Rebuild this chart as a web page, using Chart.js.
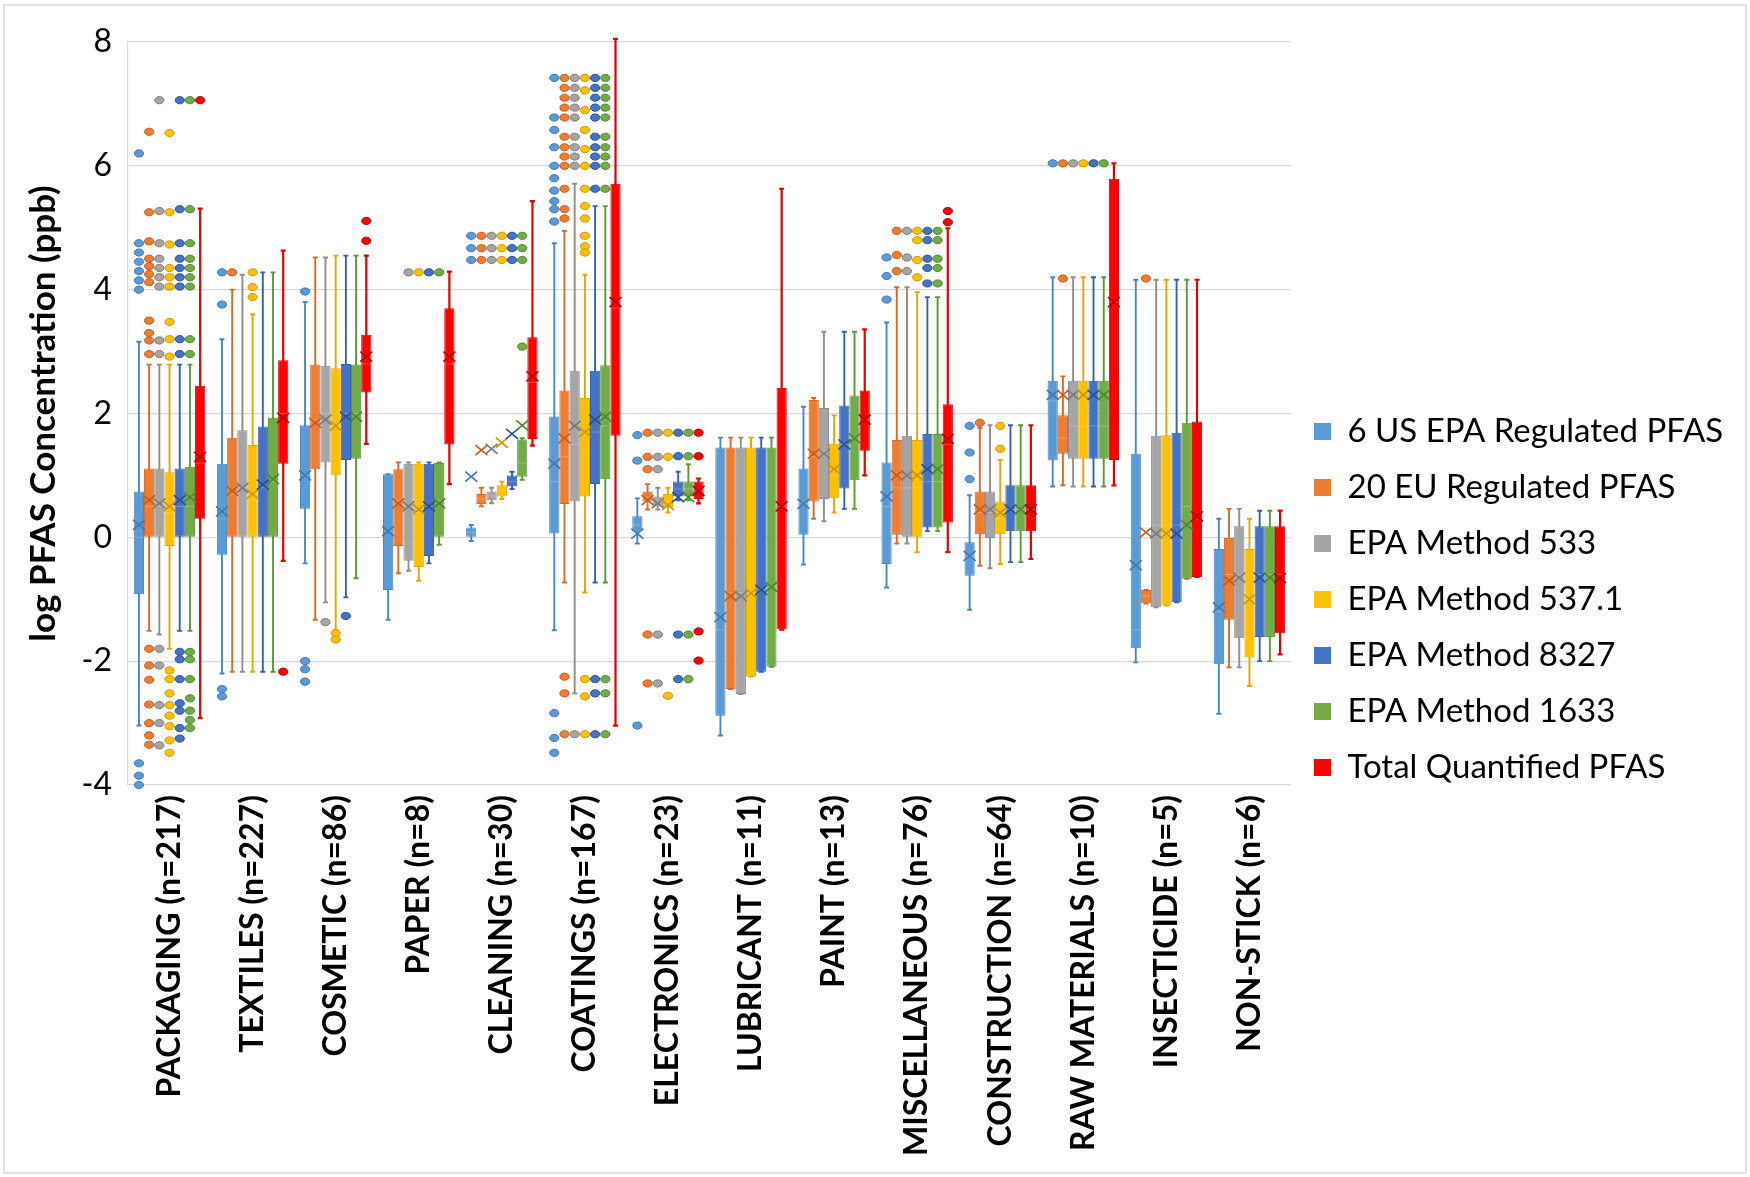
<!DOCTYPE html>
<html>
<head>
<meta charset="utf-8">
<script src="https://cdn.jsdelivr.net/npm/chart.js@4.4.1/dist/chart.umd.min.js"></script>
<style>
  html, body { margin: 0; padding: 0; background: #ffffff; }
  #wrap { width: 1750px; height: 1177px; }
</style>
</head>
<body>
<div id="wrap"><canvas id="chart" width="1750" height="1177"></canvas></div>
<script>
// Product categories (x axis)
const categories = [
  'PACKAGING (n=217)', 'TEXTILES (n=227)', 'COSMETIC (n=86)', 'PAPER (n=8)',
  'CLEANING (n=30)', 'COATINGS (n=167)', 'ELECTRONICS (n=23)', 'LUBRICANT (n=11)',
  'PAINT (n=13)', 'MISCELLANEOUS (n=76)', 'CONSTRUCTION (n=64)', 'RAW MATERIALS (n=10)',
  'INSECTICIDE (n=5)', 'NON-STICK (n=6)'
];

const seriesNames = [
  '6 US EPA Regulated PFAS', '20 EU Regulated PFAS', 'EPA Method 533',
  'EPA Method 537.1', 'EPA Method 8327', 'EPA Method 1633', 'Total Quantified PFAS'
];

const yTicks = [-4, -2, 0, 2, 4, 6, 8];

// Per category: [min whisker, Q1, median, Q3, max whisker, mean]  (log ppb)
const usEpa6 = [
  [-3.04, -0.92, 0.0, 0.74, 3.16, 0.2],
  [-2.2, -0.28, 0.3, 1.19, 3.2, 0.42],
  [-0.42, 0.46, 1.0, 1.81, 3.8, 1.0],
  [-1.33, -0.85, 0.1, 1.02, 1.02, 0.1],
  [-0.06, 0.0, 0.08, 0.16, 0.2, 0.98],
  [-1.5, 0.06, 0.9, 1.95, 4.75, 1.19],
  [-0.1, 0.1, 0.2, 0.34, 0.63, 0.06],
  [-3.2, -2.88, -1.5, 1.45, 1.61, -1.29],
  [-0.44, 0.04, 0.55, 1.11, 2.11, 0.54],
  [-0.81, -0.43, 0.5, 1.21, 3.47, 0.66],
  [-1.17, -0.62, -0.3, -0.08, 0.68, -0.3],
  [0.82, 1.24, 2.2, 2.53, 4.2, 2.3],
  [-2.02, -1.79, -1.5, 1.35, 4.16, -0.45],
  [-2.85, -2.05, -1.2, -0.19, 0.3, -1.13]
];
const eu20 = [
  [-1.51, 0.0, 0.5, 1.11, 2.79, 0.6],
  [-2.17, 0.0, 0.7, 1.61, 4.0, 0.75],
  [-1.33, 1.1, 1.9, 2.79, 4.52, 1.85],
  [-0.58, -0.14, 0.6, 1.1, 1.21, 0.55],
  [0.5, 0.54, 0.62, 0.7, 0.8, 1.41],
  [-0.73, 0.54, 1.3, 2.37, 4.95, 1.6],
  [0.45, 0.58, 0.65, 0.74, 0.86, 0.6],
  [-2.45, -2.45, -0.9, 1.45, 1.61, -0.95],
  [0.3, 0.58, 1.3, 2.22, 2.25, 1.35],
  [-0.1, 0.04, 0.8, 1.57, 4.04, 1.0],
  [-0.46, 0.05, 0.4, 0.74, 1.77, 0.45],
  [0.84, 1.35, 1.6, 1.97, 2.6, 2.3],
  [-1.07, -1.07, -0.95, -0.85, -0.85, 0.08],
  [-2.1, -1.33, -0.6, 0.0, 0.46, -0.7]
];
const method533 = [
  [-1.57, 0.0, 0.5, 1.11, 2.79, 0.55],
  [-2.17, 0.0, 0.8, 1.73, 4.24, 0.8],
  [-1.05, 1.21, 2.0, 2.77, 4.52, 1.9],
  [-0.54, -0.38, 0.5, 1.19, 1.21, 0.5],
  [0.55, 0.6, 0.67, 0.74, 0.8, 1.43],
  [-2.52, 0.58, 1.5, 2.69, 5.71, 1.8],
  [0.45, 0.5, 0.58, 0.66, 0.8, 0.55],
  [-2.53, -2.53, -0.9, 1.45, 1.61, -0.95],
  [0.26, 0.62, 1.4, 2.09, 3.32, 1.35],
  [-0.1, 0.0, 0.8, 1.64, 4.04, 1.0],
  [-0.5, -0.01, 0.4, 0.74, 1.81, 0.45],
  [0.82, 1.27, 1.8, 2.53, 4.2, 2.3],
  [-1.13, -1.13, 0.2, 1.64, 4.16, 0.06],
  [-2.1, -1.63, -0.6, 0.18, 0.46, -0.65]
];
const method5371 = [
  [-1.8, -0.14, 0.4, 1.05, 2.79, 0.5],
  [-2.17, 0.0, 0.6, 1.49, 3.6, 0.7],
  [-1.5, 1.0, 1.8, 2.73, 4.55, 1.8],
  [-0.7, -0.48, 0.4, 1.19, 1.21, 0.45],
  [0.62, 0.66, 0.75, 0.84, 0.9, 1.53],
  [-0.89, 0.66, 1.4, 2.25, 4.24, 1.7],
  [0.4, 0.48, 0.58, 0.7, 0.8, 0.52],
  [-2.25, -2.25, -0.9, 1.45, 1.61, -0.9],
  [0.4, 0.63, 1.0, 1.51, 1.97, 1.1],
  [-0.24, 0.0, 0.8, 1.57, 3.96, 1.0],
  [-0.43, 0.05, 0.3, 0.58, 1.25, 0.4],
  [0.82, 1.27, 1.8, 2.53, 4.2, 2.3],
  [-1.1, -1.1, 0.2, 1.65, 4.16, 0.06],
  [-2.4, -1.94, -1.0, -0.19, 0.3, -1.0]
];
const method8327 = [
  [-1.51, 0.0, 0.5, 1.11, 2.79, 0.6],
  [-2.17, 0.0, 0.8, 1.79, 4.28, 0.85],
  [-0.97, 1.25, 2.0, 2.8, 4.55, 1.95],
  [-0.42, -0.3, 0.5, 1.19, 1.21, 0.5],
  [0.78, 0.82, 0.9, 1.0, 1.06, 1.67],
  [-0.73, 0.86, 1.7, 2.69, 5.35, 1.9],
  [0.6, 0.66, 0.78, 0.9, 1.06, 0.65],
  [-2.17, -2.17, -0.85, 1.45, 1.61, -0.85],
  [0.46, 0.79, 1.5, 2.13, 3.32, 1.5],
  [0.1, 0.16, 0.9, 1.67, 3.88, 1.1],
  [-0.4, 0.1, 0.45, 0.84, 1.81, 0.45],
  [0.82, 1.27, 1.8, 2.53, 4.2, 2.3],
  [-1.05, -1.05, 0.2, 1.69, 4.16, 0.06],
  [-2.0, -1.61, -0.6, 0.18, 0.43, -0.65]
];
const method1633 = [
  [-1.51, 0.0, 0.5, 1.14, 2.79, 0.65],
  [-2.17, 0.0, 0.9, 1.93, 4.28, 0.94],
  [-0.66, 1.27, 2.0, 2.79, 4.55, 1.95],
  [-0.12, 0.0, 0.6, 1.2, 1.21, 0.55],
  [0.93, 0.98, 1.2, 1.58, 1.6, 1.81],
  [-0.73, 0.94, 1.8, 2.78, 5.35, 1.95],
  [0.6, 0.66, 0.78, 0.9, 1.18, 0.65],
  [-2.09, -2.09, -0.8, 1.45, 1.61, -0.8],
  [0.46, 0.92, 1.6, 2.29, 3.32, 1.6],
  [0.1, 0.16, 0.9, 1.67, 3.88, 1.1],
  [-0.4, 0.1, 0.45, 0.84, 1.81, 0.45],
  [0.82, 1.27, 1.8, 2.53, 4.2, 2.3],
  [-0.67, -0.67, 0.5, 1.85, 4.16, 0.2],
  [-2.0, -1.61, -0.6, 0.18, 0.43, -0.65]
];
const totalQuantified = [
  [-2.92, 0.3, 1.2, 2.45, 5.31, 1.3],
  [-0.38, 1.19, 2.0, 2.86, 4.63, 1.93],
  [1.51, 2.34, 2.8, 3.27, 4.55, 2.92],
  [0.86, 1.5, 2.8, 3.7, 4.29, 2.92],
  [1.48, 1.59, 2.5, 3.23, 5.43, 2.6],
  [-3.04, 1.64, 3.7, 5.71, 8.05, 3.8],
  [0.55, 0.62, 0.75, 0.9, 0.95, 0.75],
  [-1.49, -1.49, 0.5, 2.41, 5.63, 0.5],
  [1.0, 1.4, 1.9, 2.37, 3.36, 1.9],
  [-0.24, 0.24, 1.5, 2.15, 4.99, 1.59],
  [-0.35, 0.1, 0.45, 0.84, 1.81, 0.45],
  [0.84, 1.25, 3.8, 5.79, 6.04, 3.8],
  [-0.64, -0.64, 0.3, 1.87, 4.16, 0.34],
  [-1.89, -1.55, -0.6, 0.18, 0.43, -0.66]
];

// Outlying samples per category (log ppb)
const usEpa6Outliers = [
  [6.2, 4.75, 4.6, 4.45, 4.3, 4.15, 4.0, -3.65, -3.85, -4.0],
  [4.28, 3.76, -2.45, -2.57],
  [3.97, -2.0, -2.13, -2.33],
  [],
  [4.87, 4.67, 4.48],
  [7.42, 6.78, 6.58, 6.3, 6.0, 5.8, 5.6, 5.43, 5.3, 5.1, -2.84, -3.24, -3.48],
  [1.65, 1.24, -3.04],
  [], [],
  [4.52, 4.22, 3.84],
  [1.8, 1.37, 0.94],
  [6.04],
  [], []
];
const eu20Outliers = [
  [6.55, 5.25, 4.78, 4.5, 4.38, 4.25, 4.12, 3.5, 3.3, 3.18, 2.96, -1.8, -2.07, -2.3, -2.7, -3.0, -3.2, -3.35],
  [4.28],
  [],
  [],
  [4.87, 4.67, 4.48],
  [7.42, 7.26, 7.1, 6.94, 6.78, 6.47, 6.3, 6.15, 6.0, 5.63, 5.3, 5.15, -2.25, -2.52, -3.18],
  [1.69, 1.3, 1.1, -1.57, -2.36],
  [], [],
  [4.95, 4.56, 4.3],
  [1.85],
  [6.04, 4.18],
  [4.18],
  []
];
const method533Outliers = [
  [7.06, 5.27, 4.75, 4.5, 4.35, 4.2, 4.05, 3.18, 2.96, -1.8, -2.07, -2.71, -3.0, -3.36],
  [],
  [-1.37],
  [4.28],
  [4.87, 4.67, 4.48],
  [7.42, 7.26, 7.1, 6.94, 6.78, 6.47, 6.3, 6.15, 6.0, -3.18],
  [1.69, 1.3, 1.1, -1.57, -2.36],
  [], [],
  [4.95, 4.52, 4.3],
  [],
  [6.04],
  [], []
];
const method5371Outliers = [
  [6.53, 5.25, 4.73, 4.35, 4.2, 4.05, 3.48, 3.2, 2.92, -2.15, -2.29, -2.52, -2.71, -2.88, -3.05, -3.28, -3.48],
  [4.28, 4.04, 3.88],
  [-1.55, -1.65],
  [4.28],
  [4.87, 4.67, 4.48],
  [7.42, 7.22, 6.9, 6.58, 6.27, 6.0, 5.63, 5.35, 5.15, 4.87, 4.7, 4.6, -2.29, -2.57, -3.18],
  [1.69, 1.3, -2.56],
  [], [],
  [4.95, 4.8, 4.48, 4.2],
  [1.8, 1.43],
  [6.04],
  [], []
];
const method8327Outliers = [
  [7.06, 5.3, 4.75, 4.5, 4.35, 4.2, 4.05, 3.2, 2.96, -1.85, -1.97, -2.29, -2.68, -2.8, -3.08, -3.25],
  [],
  [-1.27],
  [4.28],
  [4.87, 4.67, 4.48],
  [7.42, 7.26, 7.1, 6.94, 6.78, 6.47, 6.3, 6.15, 6.0, 5.63, -2.29, -2.52, -3.18],
  [1.69, 1.31, -1.57, -2.29],
  [], [],
  [4.95, 4.8, 4.5, 4.35, 4.1],
  [],
  [6.04],
  [], []
];
const method1633Outliers = [
  [7.06, 5.3, 4.75, 4.5, 4.35, 4.2, 4.05, 3.2, 2.96, -1.85, -1.97, -2.29, -2.6, -2.8, -2.95, -3.08],
  [],
  [],
  [4.28],
  [4.87, 4.67, 4.48, 3.08],
  [7.42, 7.26, 7.1, 6.94, 6.78, 6.47, 6.3, 6.15, 6.0, 5.63, -2.29, -2.52, -3.18],
  [1.69, 1.31, -1.57, -2.29],
  [], [],
  [4.95, 4.8, 4.5, 4.35, 4.1],
  [],
  [6.04],
  [], []
];
const totalQuantifiedOutliers = [
  [7.06],
  [-2.17],
  [5.11, 4.79],
  [], [], [],
  [1.69, 1.31, -1.52, -1.99],
  [], [],
  [5.27, 5.09],
  [], [], [], []
];

const seriesStats = [usEpa6, eu20, method533, method5371, method8327, method1633, totalQuantified];
const seriesOutliers = [usEpa6Outliers, eu20Outliers, method533Outliers, method5371Outliers,
  method8327Outliers, method1633Outliers, totalQuantifiedOutliers];

const fillColors = ['#5B9BD5', '#ED7D31', '#A5A5A5', '#FFC000', '#4472C4', '#70AD47', '#FF0000'];
const lineColors = ['#4A87C0', '#D9692A', '#8E8E8E', '#E0A800', '#3560AE', '#5C9838', '#E00000'];
const markColors = ['#3F78B0', '#C65A1E', '#7A7A7A', '#C99700', '#2B4F94', '#4E8530', '#B00000'];

const FONT = 'Lato';

const datasets = seriesNames.map((name, s) => ({
  label: name,
  data: seriesStats[s].map(r => [r[1], r[3]]),
  backgroundColor: fillColors[s],
  borderColor: lineColors[s],
  borderWidth: 1,
  borderSkipped: false,
  categoryPercentage: 0.86,
  barPercentage: 1.0
}));

// Whiskers behind the boxes; median, mean and outlying samples on top
const boxExtras = {
  id: 'boxExtras',
  beforeDatasetsDraw(chart) {
    const ctx = chart.ctx;
    const y = chart.scales.y;
    ctx.save();
    seriesStats.forEach((stats, s) => {
      const meta = chart.getDatasetMeta(s);
      ctx.strokeStyle = lineColors[s];
      ctx.lineWidth = s === 6 ? 2.2 : 1.9;
      stats.forEach((r, i) => {
        const bar = meta.data[i];
        const x = bar.x;
        const yMin = y.getPixelForValue(r[0]);
        const yMax = y.getPixelForValue(r[4]);
        ctx.beginPath();
        ctx.moveTo(x, yMin); ctx.lineTo(x, yMax);
        ctx.moveTo(x - 2.5, yMin); ctx.lineTo(x + 2.5, yMin);
        ctx.moveTo(x - 2.5, yMax); ctx.lineTo(x + 2.5, yMax);
        ctx.stroke();
      });
    });
    ctx.restore();
  },
  afterDatasetsDraw(chart) {
    const ctx = chart.ctx;
    const y = chart.scales.y;
    ctx.save();
    seriesStats.forEach((stats, s) => {
      const meta = chart.getDatasetMeta(s);
      stats.forEach((r, i) => {
        const bar = meta.data[i];
        const x = bar.x, w = bar.width;
        // median
        const ym = y.getPixelForValue(r[2]);
        ctx.strokeStyle = 'rgba(255,255,255,0.25)';
        ctx.lineWidth = 1;
        ctx.beginPath();
        ctx.moveTo(x - w / 2 + 1, ym); ctx.lineTo(x + w / 2 - 1, ym);
        ctx.stroke();
        // mean marker (x)
        const yMean = y.getPixelForValue(r[5]);
        ctx.strokeStyle = markColors[s];
        ctx.lineWidth = 1.6;
        ctx.beginPath();
        ctx.moveTo(x - 6, yMean - 5); ctx.lineTo(x + 6, yMean + 5);
        ctx.moveTo(x - 6, yMean + 5); ctx.lineTo(x + 6, yMean - 5);
        ctx.stroke();
      });
    });
    seriesOutliers.forEach((outs, s) => {
      const meta = chart.getDatasetMeta(s);
      ctx.fillStyle = fillColors[s];
      ctx.strokeStyle = markColors[s];
      ctx.lineWidth = 1;
      outs.forEach((vals, i) => {
        const x = meta.data[i].x;
        vals.forEach(v => {
          const py = y.getPixelForValue(v);
          ctx.beginPath();
          ctx.ellipse(x, py, 4.6, 3.6, 0, 0, Math.PI * 2);
          ctx.fill();
          ctx.stroke();
        });
      });
    });
    ctx.restore();
  }
};

// White page with a thin frame around the chart
const pageFrame = {
  id: 'pageFrame',
  beforeDraw(chart) {
    const ctx = chart.ctx;
    ctx.save();
    ctx.fillStyle = '#ffffff';
    ctx.fillRect(0, 0, chart.width, chart.height);
    ctx.strokeStyle = '#d9d9d9';
    ctx.lineWidth = 1.5;
    ctx.strokeRect(4, 5, chart.width - 8, chart.height - 9);
    ctx.restore();
  }
};

// Fixed legend column width
const legendWidth = {
  id: 'legendWidth',
  beforeInit(chart) {
    const fit = chart.legend.fit;
    chart.legend.fit = function () {
      fit.call(this);
      this.width = 459;
    };
  }
};

new Chart(document.getElementById('chart'), {
  type: 'bar',
  data: { labels: categories, datasets },
  plugins: [pageFrame, legendWidth, boxExtras],
  options: {
    responsive: false,
    animation: false,
    devicePixelRatio: 1,
    layout: { padding: { top: 42, bottom: 20, left: 0, right: 0 } },
    plugins: {
      legend: {
        position: 'right',
        align: 'center',
        labels: {
          color: '#000000',
          font: { family: FONT, size: 33 },
          boxWidth: 17,
          boxHeight: 17,
          padding: 23,
          generateLabels(chart) {
            return chart.data.datasets.map((ds, i) => ({
              text: ds.label,
              fillStyle: fillColors[i],
              strokeStyle: fillColors[i],
              lineWidth: 0,
              hidden: false,
              datasetIndex: i,
              fontColor: '#000000'
            }));
          }
        }
      },
      tooltip: { enabled: false }
    },
    scales: {
      x: {
        grid: { display: false, drawTicks: false },
        border: { display: false },
        ticks: {
          color: '#000000',
          font: { family: FONT, size: 32, weight: 'bold' },
          minRotation: 90,
          maxRotation: 90,
          autoSkip: false,
          padding: 10
        },
        afterFit(scale) { scale.height = 372; }
      },
      y: {
        min: -4,
        max: 8,
        afterBuildTicks(scale) { scale.ticks = yTicks.map(v => ({ value: v })); },
        grid: { color: '#d9d9d9', lineWidth: 1.2, drawTicks: false },
        border: { display: true, color: '#d9d9d9', width: 1.2 },
        ticks: {
          color: '#000000',
          font: { family: FONT, size: 32 },
          padding: 16
        },
        title: {
          display: true,
          text: 'log PFAS Concentration (ppb)',
          color: '#000000',
          font: { family: FONT, size: 35, weight: 'bold' },
          padding: { top: 23, bottom: 0 }
        },
        afterFit(scale) { scale.width = 128; }
      }
    }
  }
});
</script>
</body>
</html>
